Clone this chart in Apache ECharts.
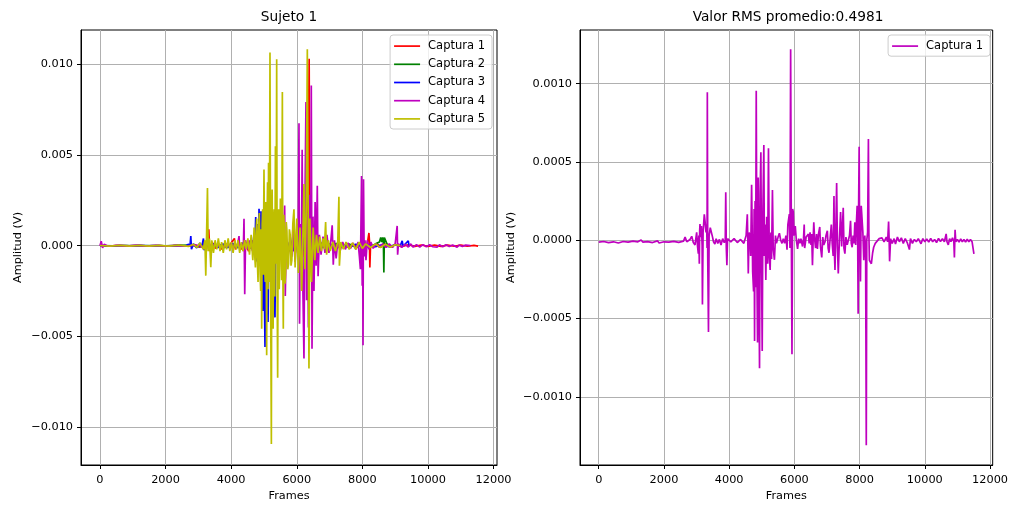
<!DOCTYPE html>
<html>
<head>
<meta charset="utf-8">
<script src="https://cdn.jsdelivr.net/npm/echarts@6/dist/echarts.min.js"></script>
<style>
  html, body { margin: 0; padding: 0; background: #fff; }
  #chart { width: 1011px; height: 507px; }
</style>
</head>
<body>
<div id="chart"></div>
<script>
// EMG captures of subject 1: [frame, amplitude in volts]
const seriesNames = ['Captura 1', 'Captura 2', 'Captura 3', 'Captura 4', 'Captura 5'];
const seriesColors = ['#ff0000', '#008000', '#0000ff', '#bf00bf', '#bfbf00'];

const captura1 = [
  [0,0.00001],[300,-0.00002],[600,0.00002],[900,-0.00001],[1200,0.00002],[1500,-0.00002],[1800,0.00001],[2100,-0.00002],
  [2400,0.00002],[2700,-0.00003],[2900,0.00005],[3050,-0.00008],[3150,0.0001],[3250,-0.0002],[3318,0.0009],[3345,-0.0003],
  [3420,0.0002],[3520,-0.00015],[3620,0.0001],[3720,-0.0002],[3820,0.00015],[3920,-0.0001],[4020,0.0002],[4100,0.0004],
  [4130,-0.0002],[4230,0.0001],[4330,-0.0002],[4430,0.0002],[4530,-0.0003],[4630,0.0003],[4730,-0.0004],[4830,0.0005],
  [4930,-0.0006],[5030,0.0006],[5130,-0.0007],[5230,0.0006],[5330,-0.0006],[5430,0.0005],[5530,-0.0005],[5630,0.0004],
  [5730,-0.0005],[5800,0.0003],[5860,-0.0004],[5885,0.0012],[5905,-0.0003],[5960,0.0004],[6030,-0.0004],[6100,0.0005],
  [6180,-0.0006],[6250,0.0005],[6320,-0.0008],[6378,0.0103],[6400,-0.0012],[6440,0.0006],[6500,-0.0004],[6580,0.0003],
  [6680,-0.0002],[6800,0.0002],[6950,-0.00015],[7100,0.00012],[7250,-0.0001],[7400,0.0001],[7550,-0.00008],[7700,0.0001],
  [7850,-0.0001],[7950,0.00012],[8050,-0.00012],[8150,0.0001],[8200,0.0007],[8215,0.0003],[8228,-0.0012],[8250,0.0001],
  [8330,-0.0001],[8450,0.0001],[8570,-0.00008],[8700,0.0001],[8850,-0.00008],[9000,0.00006],[9200,-0.00005],[9400,0.00005],
  [9600,-0.00004],[9800,0.00004],[10000,-0.00004],[10200,0.00003],[10400,-0.00004],[10600,0.00003],[10800,-0.00003],
  [11000,0.00003],[11200,-0.00003],[11400,0.00002],[11527,-0.00002]
];

const captura2 = [
  [0,0.00001],[400,-0.00001],[800,0.00001],[1200,-0.00001],[1600,0.00001],[2000,-0.00001],[2400,0.00002],[2800,0.00003],
  [3000,-0.00005],[3200,0.00008],[3400,-0.0001],[3600,0.0001],[3800,-0.0001],[4000,0.0001],[4200,-0.0001],[4400,0.00012],
  [4600,-0.00015],[4800,0.0003],[5000,-0.0004],[5200,0.0004],[5400,-0.0004],[5600,0.0003],[5800,-0.0003],[6000,0.0003],
  [6200,-0.0003],[6400,0.0003],[6600,-0.0002],[6800,0.0002],[7000,-0.00015],[7200,0.00012],[7400,-0.0001],[7600,0.0001],
  [7800,-0.0001],[8000,0.0001],[8200,-0.0001],[8400,0.0001],[8520,0.0002],[8560,0.00045],[8590,0.0002],[8620,0.00045],
  [8640,0.0003],[8655,-0.00147],[8670,0.00045],[8700,0.0004],[8730,0.00045],[8750,0.0001],[8780,0.00003],[8800,0.0]
];

const captura3 = [
  [0,0.00001],[300,-0.00002],[600,0.00001],[900,-0.00001],[1200,0.00002],[1500,-0.00001],[1800,0.00001],[2100,-0.00002],
  [2400,0.00002],[2600,-0.00003],[2700,0.00008],[2745,-0.00005],[2770,0.00053],[2790,-0.0002],[2850,0.0001],[2950,-0.00012],
  [3050,0.00015],[3100,-0.0001],[3156,0.0004],[3175,-0.00025],[3250,0.0001],[3350,-0.00015],[3450,0.0001],[3600,-0.0001],
  [3750,0.0001],[3900,-0.0001],[4050,0.00012],[4200,-0.0001],[4350,0.00015],[4500,-0.00015],[4600,0.0002],[4650,-0.0002],
  [4700,0.00067],[4720,-0.0003],[4749,0.00158],[4770,-0.00087],[4800,0.0012],[4830,-0.0005],[4850,0.00203],[4880,-0.0004],
  [4910,0.0019],[4940,-0.0015],[4965,-0.0036],[4990,0.0008],[5032,-0.00558],[5060,0.0009],[5095,-0.002],[5125,-0.0042],
  [5150,0.0006],[5200,-0.0012],[5240,0.0005],[5290,-0.0009],[5336,-0.00395],[5360,0.0004],[5420,-0.0006],[5480,0.0003],
  [5550,-0.0004],[5620,0.0002],[5700,-0.0003],[5780,0.0002],[5850,-0.0002],[5880,0.0005],[5920,-0.0003],[6000,0.0002],
  [6100,-0.0002],[6200,0.0005],[6230,-0.0002],[6350,0.0001],[6500,-0.0001],[6650,0.0001],[6800,-0.0001],[7000,0.0001],
  [7200,-0.00008],[7400,0.00008],[7600,-0.00008],[7800,0.00008],[8000,-0.00006],[8200,0.00006],[8400,-0.00005],
  [8600,0.00005],[8800,-0.00005],[9000,0.00005],[9150,-0.00003],[9214,0.00027],[9240,-0.00003],[9300,0.00003],
  [9400,0.00027],[9420,0.0],[9450,-0.00002]
];

const captura4 = [
  [0,0.0],[40,0.00025],[80,-0.00012],[130,0.00008],[250,-0.00003],[500,0.00002],[800,-0.00002],[1100,0.00002],
  [1400,-0.00002],[1700,0.00002],[2000,-0.00002],[2300,0.00002],[2600,-0.00003],[2900,0.00003],[3200,-0.00005],
  [3500,0.00005],[3800,-0.00008],[4000,0.0001],[4100,-0.0001],[4200,0.0001],[4240,0.00053],[4260,-0.0002],[4330,0.0001],
  [4370,-0.0003],[4392,0.00148],[4414,-0.00268],[4440,0.0003],[4500,-0.0002],[4580,0.0003],[4650,-0.0003],[4720,0.0004],
  [4800,-0.0005],[4900,0.0006],[5000,-0.0008],[5100,0.0008],[5200,-0.001],[5300,0.0009],[5400,-0.0008],[5500,0.0007],
  [5580,-0.0006],[5631,0.00221],[5650,-0.00277],[5680,0.0004],[5740,-0.0005],[5800,0.0004],[5850,-0.0006],[5900,0.0007],
  [5950,-0.0009],[6010,0.0012],[6040,-0.0006],[6068,0.00674],[6085,-0.0043],[6110,0.0012],[6140,-0.001],[6165,0.00529],
  [6185,-0.0022],[6220,-0.00621],[6245,0.0015],[6281,0.00792],[6300,-0.003],[6330,0.0018],[6355,-0.0045],[6395,0.0028],
  [6425,-0.0012],[6443,0.00882],[6465,-0.00567],[6495,0.0016],[6525,-0.0025],[6560,0.0024],[6590,-0.0011],[6626,0.0033],
  [6650,-0.00168],[6690,0.0006],[6740,-0.0005],[6800,0.0005],[6860,-0.0004],[6920,0.0006],[6980,-0.0004],[7040,0.0003],
  [7080,0.00112],[7113,-0.00105],[7150,0.0003],[7200,-0.0007],[7250,0.0002],[7320,-0.0003],[7400,0.0002],[7480,-0.0002],
  [7560,0.00015],[7640,-0.00015],[7720,0.00015],[7800,-0.0002],[7870,0.0002],[7910,-0.0006],[7940,-0.0013],[7975,0.00384],
  [7995,-0.0022],[8010,0.0005],[8020,-0.00549],[8035,0.00366],[8055,-0.0006],[8080,0.0003],[8110,-0.0008],[8150,0.0003],
  [8200,-0.0002],[8260,0.0002],[8330,-0.00015],[8420,0.0001],[8520,-0.0001],[8620,0.0001],[8720,-0.0001],[8820,0.0001],
  [8920,-0.0001],[9000,0.0001],[9061,0.00109],[9075,-0.0005],[9100,0.0001],[9200,-0.0001],[9300,0.00008],[9400,-0.00008],
  [9467,0.0001],[9550,-0.00008],[9650,0.00006],[9750,-0.00008],[9850,0.00006],[9950,-0.00006],[10050,0.00005],
  [10150,-0.00006],[10279,-0.00008],[10350,0.00005],[10450,-0.00006],[10550,0.00005],[10650,-0.00005],[10750,0.00004],
  [10888,-0.00008],[10950,0.00004],[11050,-0.00004],[11150,0.00003],[11294,0.0]
];

const captura5 = [
  [0,0.00001],[300,-0.00002],[600,0.00002],[900,-0.00002],[1200,0.00002],[1500,-0.00002],[1800,0.00002],[2100,-0.00002],
  [2400,0.00003],[2700,-0.00004],[2850,0.00008],[2950,-0.0001],[3050,0.00015],[3150,-0.0002],[3200,0.0003],[3227,-0.00165],
  [3250,0.0005],[3278,0.00317],[3300,-0.0003],[3340,0.0004],[3379,-0.00118],[3410,0.0003],[3460,-0.0004],[3510,0.0003],
  [3560,-0.0002],[3610,0.0004],[3660,-0.0003],[3710,0.0002],[3760,-0.0004],[3810,0.0003],[3860,-0.0002],[3910,0.0004],
  [3960,-0.0003],[4010,0.0002],[4060,-0.0004],[4110,0.0003],[4160,-0.0002],[4210,0.0003],[4260,-0.0004],[4310,0.0002],
  [4360,-0.0003],[4410,0.0003],[4460,-0.0002],[4510,0.0004],[4560,-0.0005],[4610,0.0006],[4660,-0.0008],[4700,0.001],
  [4720,-0.0006],[4740,-0.0012],[4760,0.0008],[4780,0.0015],[4800,-0.0009],[4820,-0.002],[4840,0.0011],[4860,0.0018],
  [4880,-0.0014],[4900,-0.0025],[4915,0.0009],[4931,-0.00458],[4945,0.0012],[4960,0.002],[4980,-0.0016],[5001,0.0042],
  [5020,-0.0011],[5040,-0.002],[5060,0.0024],[5083,-0.00603],[5096,0.0016],[5110,0.0035],[5125,-0.0024],[5140,0.00457],
  [5160,-0.002],[5172,0.0028],[5184,0.01064],[5205,-0.0031],[5226,-0.01092],[5238,0.0012],[5250,0.0031],[5265,-0.0022],
  [5280,-0.00458],[5295,0.0014],[5310,0.002],[5330,-0.0028],[5350,0.00547],[5370,-0.001],[5388,0.01027],[5403,-0.0026],
  [5418,-0.00728],[5433,0.0011],[5450,0.002],[5465,-0.0024],[5480,-0.001],[5500,0.0026],[5520,0.0015],[5540,-0.0019],
  [5561,0.00846],[5575,-0.0012],[5590,-0.00458],[5605,0.0017],[5620,0.001],[5640,-0.0021],[5660,-0.0015],[5680,0.0013],
  [5700,0.0008],[5725,-0.0013],[5750,-0.001],[5775,0.0009],[5800,0.0006],[5825,-0.0011],[5850,-0.0008],[5880,0.0012],
  [5915,0.002],[5950,-0.0012],[6000,0.0015],[6050,-0.0015],[6100,0.001],[6150,-0.0025],[6220,0.0034],
  [6250,-0.0013],[6290,0.002],[6322,0.01082],[6372,-0.00676],[6400,0.0015],[6450,-0.002],[6500,0.001],[6550,-0.0008],
  [6600,0.0006],[6650,-0.0004],[6700,0.0005],[6750,-0.0003],[6800,0.0004],[6840,-0.0002],[6880,0.0013],[6910,-0.0005],
  [6960,0.0003],[7020,-0.0003],[7100,0.0002],[7180,-0.0003],[7250,0.0002],[7285,0.0027],[7300,-0.0011],[7340,0.0002],
  [7420,-0.0002],[7500,0.0002],[7600,-0.0002],[7700,0.00015],[7800,-0.0002],[7900,0.0002],[8000,-0.00015],[8100,0.0001],
  [8250,-0.0001],[8400,0.0001],[8550,-0.0001],[8700,0.00008],[8850,-0.00008],[9000,0.00005],[9150,0.0]
];

// Capture shown on the right panel
const rmsName = 'Captura 1';
const rmsColor = '#bf00bf';
const rmsCaptura1 = [
  [0,-0.000012],[150,-0.000008],[300,-0.000015],[450,-0.00001],[600,-0.000018],[750,-0.000008],[900,-0.000012],
  [1050,-0.000006],[1200,-0.00001],[1300,0.000002],[1350,-0.000012],[1500,-0.000009],[1650,-0.000015],[1800,-0.000004],
  [1850,-0.000018],[2000,-0.00001],[2150,-0.000012],[2300,-0.000007],[2450,-0.000014],[2600,-0.000006],
  [2648,0.00002],[2700,-0.00001],[2750,-0.00002],[2800,0.000005],[2851,0.000025],[2900,-0.000015],[2953,-0.00003],
  [3003,0.00005],[3030,-0.00004],[3054,-0.000086],[3070,0.00003],[3084,-0.00015],[3095,0.00006],[3105,0.000103],
  [3125,0.00002],[3150,0.00009],[3170,-0.00003],[3180,-0.00041],[3200,0.00005],[3237,0.000166],[3260,0.00012],
  [3290,0.00005],[3310,0.0001],[3322,-0.00005],[3330,0.000945],[3342,-0.0001],[3365,-0.000587],[3385,0.00003],
  [3420,0.00008],[3460,0.000088],[3490,0.00002],[3520,-0.00001],[3562,-0.000025],[3600,0.00001],[3650,-0.00002],
  [3700,0.000005],[3750,-0.00003],[3800,0.00001],[3850,-0.000015],[3880,0],[3895,0.000307],[3912,-0.00005],
  [3930,-0.00016],[3950,0.00001],[4050,-0.00001],[4150,0.00001],[4250,-0.000015],[4350,0.000005],[4450,-0.00002],
  [4520,0.00003],[4556,0.000166],[4570,0.00002],[4586,-0.000213],[4610,0.00005],[4640,0.00003],[4660,-0.0001],
  [4688,0.000355],[4705,0.00008],[4720,-0.0002],[4749,-0.000328],[4765,0.0002],[4779,-0.000644],[4795,0.00025],
  [4810,-0.0003],[4830,0.000955],[4850,-0.0002],[4870,-0.000654],[4890,0.0004],[4910,-0.0002],[4931,-0.000818],
  [4950,0.0003],[4972,0.000562],[4990,-0.0001],[5013,-0.000707],[5035,0.0002],[5063,0.000608],[5080,-0.0001],
  [5100,0.0001],[5124,-0.000254],[5150,0.00015],[5180,-0.00015],[5205,0.000587],[5230,-0.0001],[5256,-0.00019],
  [5280,0.00005],[5300,-0.00012],[5327,0.00032],[5350,-0.00005],[5388,-0.000125],[5420,0.00003],[5450,-0.00002],
  [5500,0.00002],[5540,0.000045],[5580,0.0],[5620,-0.00002],[5660,0.00001],[5700,-0.00002],[5740,0.00003],
  [5774,-0.00006],[5800,0.0001],[5845,0.000166],[5865,-0.00005],[5885,0.00122],[5905,0.0001],[5926,-0.000728],
  [5946,0.0002],[5966,0.00018],[5990,0.00003],[6027,0.00009],[6060,0.0],[6098,-0.000055],[6130,0.00001],
  [6170,-0.00002],[6200,0.00001],[6250,-0.00004],[6280,0.00001],[6301,0.0001],[6315,-0.00005],[6331,-0.000055],
  [6360,0.00002],[6400,0.00001],[6430,0.00004],[6453,-0.00002],[6480,0.00005],[6510,-0.00003],[6530,0.00004],
  [6554,-0.00016],[6575,0.0],[6595,0.000115],[6620,0.00001],[6650,-0.00005],[6680,0.00004],[6706,-0.000055],
  [6740,0.00004],[6778,0.000085],[6800,-0.00004],[6839,-0.00011],[6870,0.00002],[6900,-0.00003],[6940,-0.00001],
  [6970,0.00003],[7011,0.00006],[7035,-0.00005],[7062,-0.00008],[7100,0.00002],[7133,0.0001],[7160,-0.00002],
  [7190,-0.0001],[7214,0.000282],[7230,-0.0001],[7245,-0.00019],[7270,0.00005],[7296,0.000366],[7320,-0.00004],
  [7346,-0.000213],[7380,0.0],[7417,0.00018],[7450,-0.00004],[7498,0.000208],[7520,-0.00005],[7549,-0.000086],
  [7580,0.00002],[7620,-0.00003],[7651,-0.00004],[7690,0.00003],[7722,0.000124],[7745,-0.00002],[7772,-0.000045],
  [7800,0.00003],[7830,-0.00002],[7854,0.000115],[7880,-0.00003],[7900,0.0001],[7925,0.00022],[7940,0.00005],
  [7955,-0.00047],[7970,0.00022],[7986,0.000597],[8000,0.00003],[8026,-0.000263],[8050,0.00022],[8077,0.00022],
  [8100,0.00005],[8128,-0.000128],[8160,0.00003],[8185,-0.0001],[8205,-0.00131],[8220,0.0],[8245,0.00005],
  [8270,0.000646],[8285,0.00004],[8300,-0.000128],[8330,-0.00014],[8361,-0.00015],[8400,-0.00008],[8432,-0.000045],
  [8480,-0.00002],[8534,-0.00001],[8600,0.00001],[8650,0.0],[8686,0.000015],[8750,-0.00001],[8820,0.00002],
  [8860,-0.00001],[8889,0.00012],[8905,0.00001],[8920,-0.000135],[8950,0.00001],[9000,-0.00002],[9060,0.00001],
  [9100,-0.000025],[9160,0.00002],[9220,-0.00001],[9280,0.000015],[9340,-0.00002],[9400,0.00001],[9460,-0.000015],
  [9528,-0.00006],[9560,0.00001],[9620,-0.00002],[9680,0.000005],[9740,-0.00001],[9800,0.00001],[9883,-0.000023],
  [9940,0.00001],[10000,-0.00001],[10060,0.000008],[10120,-0.000012],[10180,0.000012],[10240,-0.00001],
  [10300,0.000005],[10360,-0.000015],[10420,0.000012],[10480,-0.000008],[10540,0.00001],[10600,-0.00001],
  [10654,0.00004],[10680,-0.00001],[10720,-0.00003],[10760,0.00001],[10800,-0.00001],[10850,0.000015],
  [10890,-0.00001],[10907,-0.00011],[10928,0.000067],[10950,-0.00001],[11000,0.000005],[11050,-0.000012],
  [11100,0.000008],[11150,-0.00001],[11200,0.000005],[11250,-0.000012],[11300,0.000006],[11350,-0.00001],
  [11400,0.000005],[11450,-0.00001],[11490,-0.000005],[11506,-0.000088]
];

// Tick values
const frameTicks = [0, 2000, 4000, 6000, 8000, 10000, 12000];
const ampTicksLeft = [-0.01, -0.005, 0, 0.005, 0.01];
const ampTicksRight = [-0.001, -0.0005, 0, 0.0005, 0.001];

const titles = ['Sujeto 1', 'Valor RMS promedio:0.4981'];
const xName = 'Frames';
const yName = 'Amplitud (V)';

const FONT = 'DejaVu Sans';
const TICK_FS = 11.3;

function signedFixed(dec) {
  return function (v) {
    const s = Math.abs(v).toFixed(dec);
    return (v < -1e-12 ? '\u2212' : '') + s;
  };
}

function frameAxis(gridIndex, min, max) {
  return {
    type: 'value', gridIndex, min, max,
    name: xName, nameLocation: 'middle', nameGap: 26,
    nameTextStyle: { fontFamily: FONT, fontSize: TICK_FS, color: '#000' },
    axisLine: { show: true, onZero: false, lineStyle: { color: '#000', width: 1 } },
    axisTick: { show: true, inside: false, length: 4, lineStyle: { color: '#000', width: 1 }, customValues: frameTicks },
    axisLabel: { customValues: frameTicks, margin: 10, fontFamily: FONT, fontSize: TICK_FS, color: '#000',
                 formatter: v => String(v) },
    splitLine: { show: true, lineStyle: { color: '#b0b0b0', width: 1 } }
  };
}

function ampAxis(gridIndex, min, max, ticks, dec, gap) {
  return {
    type: 'value', gridIndex, min, max,
    name: yName, nameLocation: 'middle', nameGap: gap,
    nameTextStyle: { fontFamily: FONT, fontSize: TICK_FS, color: '#000' },
    axisLine: { show: true, onZero: false, lineStyle: { color: '#000', width: 1 } },
    axisTick: { show: true, inside: false, length: 4, lineStyle: { color: '#000', width: 1 }, customValues: ticks },
    axisLabel: { customValues: ticks, margin: 8, fontFamily: FONT, fontSize: TICK_FS, color: '#000',
                 formatter: signedFixed(dec) },
    splitLine: { show: true, lineStyle: { color: '#b0b0b0', width: 1 } }
  };
}

function lineSeries(name, data, color, xi) {
  return {
    type: 'line', name, data, xAxisIndex: xi, yAxisIndex: xi,
    showSymbol: false, symbol: 'none', clip: true,
    lineStyle: { color, width: 1.7 }, itemStyle: { color },
    emphasis: { disabled: true }
  };
}

const leftData = [captura1, captura2, captura3, captura4, captura5];
const series = leftData.map((d, i) => lineSeries(seriesNames[i], d, seriesColors[i], 0));
series.push(lineSeries(rmsName, rmsCaptura1, rmsColor, 1));

const legendCommon = {
  orient: 'vertical', icon: 'rect', itemWidth: 26, itemHeight: 1.7, itemGap: 0,
  backgroundColor: 'rgba(255,255,255,0.8)', borderColor: '#cccccc', borderWidth: 1, borderRadius: 3,
  padding: [2, 7, 1, 4], selectedMode: false,
  itemStyle: { borderWidth: 0 },
  textStyle: { fontFamily: FONT, fontSize: 11.5, color: '#000', lineHeight: 18.2, padding: [0, 0, 0, 3] }
};

const chart = echarts.init(document.getElementById('chart'), null, { renderer: 'canvas' });
chart.setOption({
  animation: false,
  backgroundColor: '#ffffff',
  grid: [
    { left: 81, top: 30, width: 416, height: 441, show: true, borderColor: '#000', borderWidth: 1, backgroundColor: 'transparent' },
    { left: 580, top: 30, width: 416, height: 441, show: true, borderColor: '#000', borderWidth: 1, backgroundColor: 'transparent' }
  ],
  xAxis: [frameAxis(0, -577, 12104), frameAxis(1, -575, 12081)],
  yAxis: [
    ampAxis(0, -0.01208, 0.01188, ampTicksLeft, 3, 57),
    ampAxis(1, -0.001436, 0.001343, ampTicksRight, 4, 63)
  ],
  legend: [
    Object.assign({}, legendCommon, {
      right: 1011 - 492, top: 35,
      data: seriesNames.map((n, i) => ({ name: n, itemStyle: { color: seriesColors[i] } }))
    }),
    Object.assign({}, legendCommon, {
      right: 1011 - 990, top: 35,
      data: [{ name: rmsName, itemStyle: { color: rmsColor } }]
    })
  ],
  graphic: [
    { type: 'text', x: 289, y: 17.5, style: { text: titles[0], fontFamily: FONT, fontSize: 13.7, fill: '#000', align: 'center', verticalAlign: 'middle' } },
    { type: 'text', x: 788, y: 17.5, style: { text: titles[1], fontFamily: FONT, fontSize: 13.7, fill: '#000', align: 'center', verticalAlign: 'middle' } }
  ],
  series
});
</script>
</body>
</html>
